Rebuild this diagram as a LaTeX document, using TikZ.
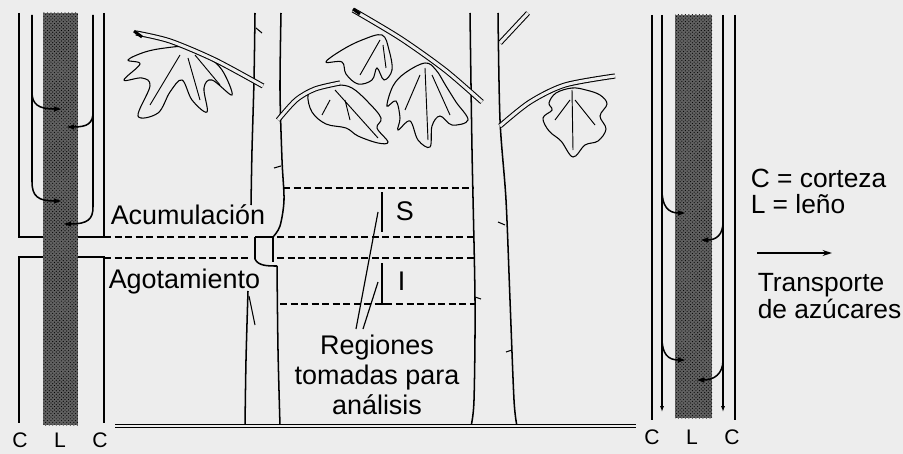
\documentclass[tikz,border=0pt]{standalone}
\usepackage{fontspec}
\setmainfont{Liberation Sans}
\usetikzlibrary{positioning,arrows.meta,patterns}
\definecolor{paper}{gray}{0.93}

\begin{document}
\begin{tikzpicture}[x=0.03cm,y=-0.03cm,line width=1.3pt,node distance=1.2cm,on grid,
    wood/.style={fill=black!62,postaction={pattern=crosshatch dots,pattern color=black}},
    twig/.style={double=paper,double distance=2.6pt,line width=0.9pt},
    cutline/.style={dash pattern=on 6pt off 3pt,line width=1pt},
    leaf/.style={line width=0.9pt,fill=paper},
    into/.style={-{Latex[length=7pt,width=5pt]}},
    down/.style={-{Latex[length=5pt,width=3.5pt]}},
    lbl/.style={font=\fontsize{23}{26}\selectfont,inner sep=0pt},
    tag/.style={font=\fontsize{18}{20}\selectfont,inner sep=0pt},
    keytext/.style={font=\fontsize{22.5}{26}\selectfont,inner sep=0pt,align=left}]
                            % \draw[help lines] (0,0) grid[step=50] (903,454);
    \fill[paper] (0,0) rectangle (903,454);
    \useasboundingbox (0,0) rectangle (903,454);

    % left stem section
    \fill[wood] (43,13) rectangle (78,425);
    \draw (19,13) -- (19,237) -- (43,237);
    \draw (43,257) -- (19,257) -- (19,423);
    \draw (104,13) -- (104,237) -- (78,237);
    \draw (78,257) -- (104,257) -- (104,423);
    \draw[into] (32,15) -- (32,182) .. controls (32,196) and (38,201) .. (62,201);
    \draw[into] (32,92) .. controls (32,104) and (38,109) .. (62,109);
    \draw[into] (93,15) -- (93,207) .. controls (93,219) and (88,224) .. (63,224);
    \draw[into] (93,112) .. controls (93,123) and (88,127) .. (66,127);

    % right stem section
    \fill[wood] (675,15) rectangle (712,418);
    \draw (652,15) -- (652,420);
    \draw (735,15) -- (735,420);
    \draw[down] (662,15) -- (662,412);
    \draw[down] (723,15) -- (723,412);
    \draw[into] (662,190) .. controls (662,206) and (668,213) .. (686,213);
    \draw[into] (723,222) .. controls (723,235) and (716,240) .. (700,240);
    \draw[into] (662,338) .. controls (662,354) and (668,360) .. (686,360);
    \draw[into] (723,360) .. controls (723,374) and (714,380) .. (696,380);

    % trunks
    \draw plot[smooth] coordinates {(255,13) (254,80) (252,150) (251,205)};
    \draw plot[smooth] coordinates {(281,13) (280,90) (282,160) (284,200) (280,226) (273,237)};
    \draw (255,237) -- (273,237) -- (273,262);
    \draw (255,237) -- (255,259) .. controls (258,266) and (268,266) .. (277,266);
    \draw plot[smooth] coordinates {(277,266) (278,350) (280,426)};
    \draw plot[smooth] coordinates {(248,291) (246,360) (245,426)};
    \draw[line width=0.9pt] (249,296) -- (255,325);
    \draw[line width=0.9pt] (256,28) -- (262,33);
    \draw[line width=0.9pt] (281,166) -- (274,168);
    \draw plot[smooth] coordinates {(470,13) (472,150) (475,300) (474,400) (471,426)};
    \draw plot[smooth] coordinates {(498,13) (500,120) (506,200) (510,300) (514,400) (517,426)};
    \draw[line width=0.9pt] (505,225) -- (498,222);
    \draw[line width=0.9pt] (475,297) -- (481,299);
    \draw[line width=0.9pt] (512,350) -- (506,352);
    \draw[double=paper,double distance=1pt,line width=0.8pt] (115,426) -- (636,426);

    % leaves
    \draw[leaf] plot[smooth cycle,tension=0.6] coordinates {(185,47) (165,48) (145,52) (128,60) (140,64) (124,80) (142,78) (150,86) (138,116) (158,113) (170,92) (182,80) (192,100) (207,112) (204,88) (212,80) (232,95) (222,70) (205,55)};
    \draw[line width=0.8pt] (180,55) -- (150,105) (188,58) -- (200,100) (195,55) -- (220,85);
    \draw[leaf] plot[smooth cycle,tension=0.6] coordinates {(382,35) (362,40) (342,50) (326,62) (342,62) (346,74) (358,84) (372,80) (377,68) (384,80) (392,70) (389,50)};
    \draw[line width=0.8pt] (380,40) -- (360,75) (383,45) -- (386,68);
    \draw[leaf] plot[smooth cycle,tension=0.6] coordinates {(337,85) (316,88) (308,95) (312,112) (326,124) (346,128) (358,136) (378,143) (388,142) (377,128) (381,118) (368,102) (352,88)};
    \draw[line width=0.8pt] (335,90) -- (378,138) (330,100) -- (322,115) (345,100) -- (350,120);
    \draw[leaf] plot[smooth cycle,tension=0.6] coordinates {(425,63) (405,73) (393,86) (387,106) (396,101) (400,118) (398,130) (410,121) (418,140) (430,147) (432,126) (440,116) (452,125) (468,120) (456,102) (446,86) (436,70)};
    \draw[line width=0.8pt] (425,68) -- (428,140) (420,75) -- (405,110) (432,75) -- (450,115);
    \draw[leaf] plot[smooth cycle,tension=0.6] coordinates {(572,88) (556,93) (549,103) (552,110) (543,118) (549,131) (561,141) (573,157) (585,145) (598,141) (606,129) (600,116) (607,104) (600,95) (586,90)};
    \draw[line width=0.8pt] (572,90) -- (573,150) (570,100) -- (555,120) (575,100) -- (595,125);

    % twigs
    \draw[twig] plot[smooth] coordinates {(263,86) (215,60) (170,41) (136,33)};
    \draw[line width=2.5pt] (134,31) -- (142,37);
    \draw[twig] plot[smooth] coordinates {(278,120) (296,100) (315,89) (340,83)};
    \draw[twig] plot[smooth] coordinates {(353,10) (400,38) (445,70) (482,102)};
    \draw[line width=2.5pt] (353,9) -- (360,14);
    \draw[twig] plot[smooth] coordinates {(500,126) (530,102) (565,85) (615,76)};
    \draw[twig] (500,43) -- (528,13);

    % sampled regions
    \draw[cutline] (283,188) -- (473,188);
    \draw[cutline] (104,237) -- (251,237);
    \draw[cutline] (277,237) -- (473,237);
    \draw[cutline] (104,258) -- (248,258);
    \draw[cutline] (277,258) -- (474,258);
    \draw[cutline] (280,304) -- (475,304);
    \draw (382,192) -- (382,232);
    \draw (382,263) -- (382,304) -- (392,304);

    \node[lbl,anchor=base west] (acum) at (110,224) {Acumulación};
    \node[lbl,anchor=base west] (agot) at (108,288) {Agotamiento};
    \node[lbl,anchor=base west] (S) at (395,220) {S};
    \node[lbl,anchor=base west] (I) at (397,290) {I};
    \node[lbl,anchor=north,align=center,font=\fontsize{23}{25.6}\selectfont] (regiones) at (377,334) {Regiones\\tomadas para\\análisis};
    \coordinate (sTip) at (378,212);
    \coordinate (iTip) at (378,282);
    \coordinate (pS) at (356,329);
    \coordinate (pI) at (363,329);
    \draw[line width=1pt] (pS) -- (sTip);
    \draw[line width=1pt] (pI) -- (iTip);

    % labels under the sections
    \node[tag] (c1) at (20,440) {C};
    \node[tag] (l1) [right=of c1] {L};
    \node[tag] (c2) [right=of l1] {C};
    \node[tag] (c3) at (652,437) {C};
    \node[tag] (l2) [right=of c3] {L};
    \node[tag] (c4) [right=of l2] {C};

    % legend
    \node[keytext,anchor=base west] (corteza) at (750,187) {C = corteza};
    \node[keytext,anchor=base west] (leno) at (750,213) {L = leño};
    \coordinate (tr0) at (757,253);
    \coordinate (tr1) at (832,253);
    \draw[-{Stealth[length=8pt,width=5pt]},line width=1.3pt] (tr0) -- (tr1);
    \node[keytext,anchor=base west] (transporte) at (757,291) {Transporte};
    \node[keytext,anchor=base west] (azucares) at (757,318) {de azúcares};
\end{tikzpicture}
\end{document}
